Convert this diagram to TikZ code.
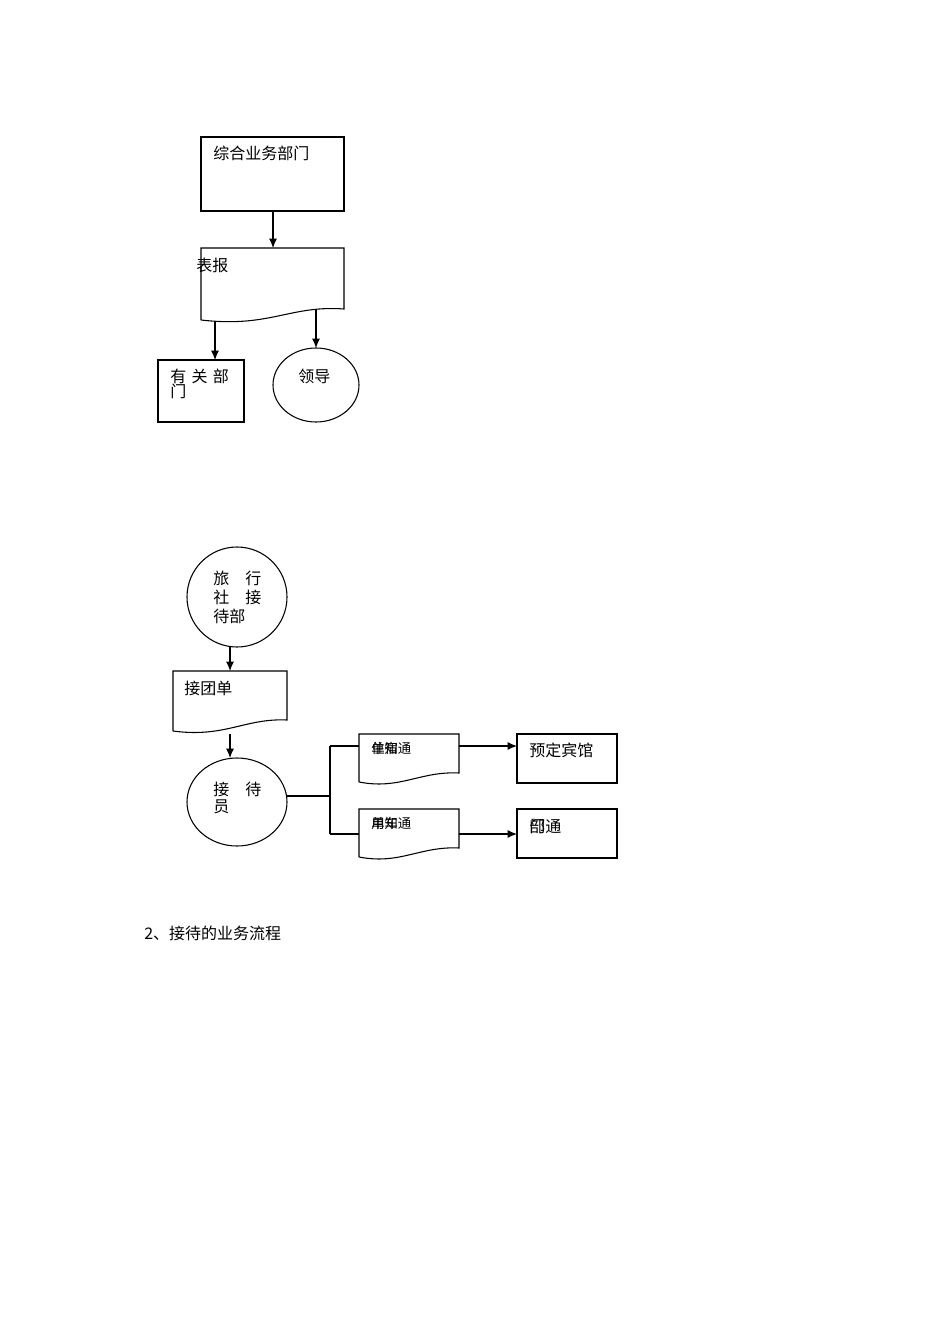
\documentclass[tikz,border=0pt]{standalone}
\usetikzlibrary{arrows.meta}
\usepackage{fontspec}
\setmainfont{Liberation Serif}
\newfontfamily\cjk{Noto Sans CJK SC}
\begin{document}
\begin{tikzpicture}[x=0.75pt,y=-0.75pt,
  ln/.style={line width=0.8pt},
  arr/.style={ln,-{Latex[length=7pt,width=6pt]}},
  txt/.style={anchor=west,inner sep=0,font=\cjk\fontsize{12}{14}\selectfont},
  stxt/.style={anchor=west,inner sep=0,font=\cjk\fontsize{10}{12}\selectfont}]
\useasboundingbox (0,0) rectangle (950,1344);
% top
\draw[ln] (201,137) rectangle (344,211);
\node[txt] (t1) at (213,153) {综合业务部门};
\coordinate (a1) at (273,211); \coordinate (b1) at (273,248);
\draw[arr] (a1) -- (b1);
\draw[ln] (201,320) -- (201,248) -- (344,248) -- (344,309) .. controls (290,305) and (270,328) .. (201,320);
\node[txt] (t2) at (196,265) {表报};
\coordinate (a2) at (215,321); \coordinate (b2) at (215,360);
\draw[arr] (a2) -- (b2);
\draw[ln] (158,360) rectangle (244,422);
\node[txt,align=left,anchor=north west] (t3) at (170,369) {有\,\,关\,\,部\\[-3pt]门};
\coordinate (a3) at (316,309); \coordinate (b3) at (316,348);
\draw[arr] (a3) -- (b3);
\draw[ln] (316,385) ellipse [x radius=43, y radius=37];
\node[txt] (t4) at (298,376) {领导};
% bottom
\draw[ln] (237,597) circle [radius=50];
\node[txt] (c1) at (213,578) {旅\quad 行};
\node[txt] (c2) at (213,597) {社\quad 接};
\node[txt] (c3) at (213,616) {待部};
\coordinate (a4) at (230,647); \coordinate (b4) at (230,671);
\draw[arr] (a4) -- (b4);
\draw[ln] (173,731) -- (173,671) -- (287,671) -- (287,720) .. controls (245,718) and (225,738) .. (173,731);
\node[txt] (t5) at (184,688) {接团单};
\coordinate (a5) at (230,734); \coordinate (b5) at (230,758);
\draw[arr] (a5) -- (b5);
\draw[ln] (237,802) ellipse [x radius=50, y radius=44];
\node[txt] (t6) at (213,789) {接\quad 待};
\node[txt] (t7) at (213,807) {员};
\coordinate (j0) at (287,796); \coordinate (j1) at (330,796);
\coordinate (j2) at (330,746); \coordinate (j3) at (330,834);
\coordinate (d1) at (359,746); \coordinate (d2) at (359,834);
\draw[ln] (j0) -- (j1) (j2) -- (j3) (j2) -- (d1) (j3) -- (d2);
\draw[ln] (359,782) -- (359,734) -- (459,734) -- (459,773) .. controls (420,771) and (400,790) .. (359,782);
\draw[ln] (359,857) -- (359,809) -- (459,809) -- (459,848) .. controls (420,846) and (400,865) .. (359,857);
\node[stxt] (n1) at (371,748) {住知通};
\node[stxt] at (371,748) {单宿\phantom{通}};
\node[stxt] (n2) at (371,823) {单知通};
\node[stxt] at (371,823) {用车\phantom{通}};
\coordinate (e1) at (459,746); \coordinate (f1) at (517,746);
\coordinate (e2) at (459,834); \coordinate (f2) at (517,834);
\draw[arr] (e1) -- (f1);
\draw[arr] (e2) -- (f2);
\draw[ln] (517,734) rectangle (617,783);
\draw[ln] (517,809) rectangle (617,858);
\node[txt] (p1) at (529,750) {预定宾馆};
\node[txt] (p2) at (529,826) {部通};
\node[txt] at (529,826) {门};
\node[txt] (cap) at (144,933) {2、接待的业务流程};
\end{tikzpicture}
\end{document}
